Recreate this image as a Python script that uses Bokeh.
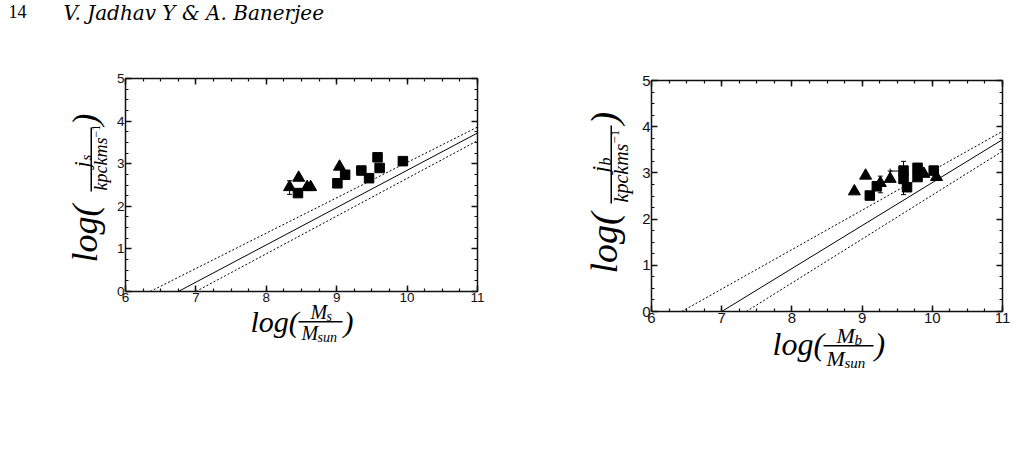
import math
from bokeh.plotting import figure
from bokeh.models import (Label, LinearAxis, SingleIntervalTicker, Range1d, Whisker,
                          ColumnDataSource, BoxAnnotation, TeeHead)
from bokeh.layouts import row
from bokeh.embed import file_html
from bokeh.resources import INLINE

# ---------------- data ----------------
# Left panel: stellar mass vs stellar specific angular momentum
s_tri_x = [8.33, 8.46, 8.58, 8.63, 9.04]
s_tri_y = [2.45, 2.67, 2.45, 2.45, 2.93]
s_sq_x = [8.45, 9.01, 9.12, 9.35, 9.46, 9.58, 9.61, 9.94]
s_sq_y = [2.31, 2.54, 2.74, 2.84, 2.66, 3.15, 2.90, 3.06]
s_err_x = [8.33]
s_err_lo = [2.28]
s_err_hi = [2.60]
s_fit_x = [6.75, 11.0]
s_fit_y = [0.0, 3.72]
s_up_x = [6.35, 11.0]
s_up_y = [0.0, 3.86]
s_lo_x = [7.0, 11.0]
s_lo_y = [0.0, 3.54]

# Right panel: baryonic mass vs baryonic specific angular momentum
b_tri_x = [8.89, 9.05, 9.26, 9.40, 9.88, 10.06]
b_tri_y = [2.60, 2.94, 2.78, 2.87, 2.98, 2.91]
b_sq_x = [9.11, 9.21, 9.59, 9.59, 9.64, 9.79, 9.79, 10.02]
b_sq_y = [2.51, 2.71, 3.05, 2.87, 2.69, 3.11, 2.91, 3.05]
b_err_x = [9.26, 9.59, 9.40]
b_err_lo = [2.57, 2.53, 2.87]
b_err_hi = [2.93, 3.25, 3.04]
b_xerr_y = [3.04]
b_xerr_lo = [9.40]
b_xerr_hi = [9.59]
b_fit_x = [7.0, 11.0]
b_fit_y = [0.0, 3.72]
b_up_x = [6.43, 11.0]
b_up_y = [0.0, 3.90]
b_lo_x = [7.35, 11.0]
b_lo_y = [0.0, 3.47]

x_ticks = [6, 7, 8, 9, 10, 11]
y_ticks = [0, 1, 2, 3, 4, 5]

SERIF = "Liberation Serif"
SANS = "Liberation Sans"
H = 457


def make_panel(fig_w, box_left, box_right, box_top, box_bottom, tick_size):
    """Figure whose frame is the whole canvas; the axes box is placed with
    fixed-location axes bounded to the data limits."""
    x0, x1 = x_ticks[0], x_ticks[-1]
    y0, y1 = y_ticks[0], y_ticks[-1]
    kx = (box_right - box_left) / (x1 - x0)
    ky = (box_bottom - box_top) / (y1 - y0)
    xs = x0 - box_left / kx
    ys = y0 - (H - box_bottom) / ky
    p = figure(width=fig_w, height=H, min_border=0,
               x_range=Range1d(xs, xs + fig_w / kx),
               y_range=Range1d(ys, ys + H / ky),
               output_backend="svg", toolbar_location=None,
               x_axis_type=None, y_axis_type=None)
    p.min_border_left = p.min_border_right = p.min_border_top = p.min_border_bottom = 0
    p.outline_line_color = None
    p.background_fill_color = "white"
    p.border_fill_color = "white"
    p.xgrid.visible = False
    p.ygrid.visible = False
    spec = {"below": y0, "above": y1, "left": x0, "right": x1}
    for side, loc in spec.items():
        ax = LinearAxis(ticker=SingleIntervalTicker(interval=1, num_minor_ticks=4))
        ax.fixed_location = loc
        ax.bounds = (x0, x1) if side in ("below", "above") else (y0, y1)
        ax.axis_line_color = "#111111"
        ax.axis_line_width = 1.5
        ax.major_tick_line_color = "#111111"
        ax.minor_tick_line_color = "#111111"
        ax.major_tick_line_width = 1.5
        ax.minor_tick_line_width = 1.2
        ax.major_tick_in = 6
        ax.major_tick_out = 0
        ax.minor_tick_in = 3
        ax.minor_tick_out = 0
        ax.major_label_standoff = 1
        ax.major_label_text_font = SANS
        ax.major_label_text_font_size = tick_size
        ax.major_label_text_color = "#111111"
        if side in ("above", "right"):
            ax.major_label_text_color = None
            ax.major_label_standoff = 0
        p.add_layout(ax, side)
    return p


SHIFT = 0.28  # empirical offset of the rendered baseline, in em


def lab(p, X, Y, text, size, angle=0.0, italic=True, align="left", font=SERIF):
    # X, Y: wanted baseline anchor in canvas pixels of this figure (y down)
    if angle:
        X = X - SHIFT * size
    else:
        Y = Y - SHIFT * size
    p.add_layout(Label(x=X, y=H - Y, x_units="screen", y_units="screen",
                       text=text, angle=angle, text_font=font,
                       text_font_style="italic" if italic else "normal",
                       text_font_size=f"{size}px", text_align=align,
                       text_baseline="alphabetic", text_color="black"))


def bar(p, X0, X1, Y0, Y1):
    p.add_layout(BoxAnnotation(left=X0, right=X1, top=H - Y0, bottom=H - Y1,
                               left_units="screen", right_units="screen",
                               top_units="screen", bottom_units="screen",
                               fill_color="black", fill_alpha=1.0, line_color=None))


def draw_data(p, tri_x, tri_y, sq_x, sq_y, ex, elo, ehi, fx, fy, ux, uy, lx, ly):
    p.line(fx, fy, line_color="black", line_width=1)
    p.line(ux, uy, line_color="black", line_width=1, line_dash="2 2")
    p.line(lx, ly, line_color="black", line_width=1, line_dash="2 2")
    src = ColumnDataSource(dict(x=ex, lo=elo, hi=ehi))
    p.add_layout(Whisker(source=src, base="x", lower="lo", upper="hi", dimension="height",
                         line_color="black", line_width=1,
                         upper_head=TeeHead(size=5, line_color="black"),
                         lower_head=TeeHead(size=5, line_color="black")))
    p.scatter(sq_x, sq_y, marker="square", size=9.5, fill_color="black", line_color="black")
    p.scatter(tri_x, tri_y, marker="triangle", size=12, fill_color="black", line_color="black")


R = math.pi / 2

# ---------------- left panel ----------------
p1 = make_panel(560, 125, 477, 78, 291, "13.5px")
draw_data(p1, s_tri_x, s_tri_y, s_sq_x, s_sq_y, s_err_x, s_err_lo, s_err_hi,
          s_fit_x, s_fit_y, s_up_x, s_up_y, s_lo_x, s_lo_y)
# y label (rotated, reads upwards)
lab(p1, 95, 262, "log(", 36, angle=R)
lab(p1, 87, 167, "j", 22, angle=R)
lab(p1, 90, 160, "s", 15, angle=R)
bar(p1, 90, 91.5, 127, 191)
lab(p1, 106, 190, "kpckms", 18, angle=R)
lab(p1, 99, 137, "\u22121", 12, angle=R, italic=False)
lab(p1, 95, 125, ")", 36, angle=R)
# x label
lab(p1, 250, 329, "log(", 30)
lab(p1, 310, 317, "M", 20)
lab(p1, 326, 320, "s", 14)
bar(p1, 298, 342, 320.5, 322)
lab(p1, 301, 338, "M", 20)
lab(p1, 317, 341, "sun", 14)
lab(p1, 343, 329, ")", 30)
# running header
lab(p1, 8, 16, "14", 18, italic=False)
lab(p1, 63, 18, "V. Jadhav Y & A. Banerjee", 20, font="DejaVu Serif")

# ---------------- right panel ----------------
O = 560  # page offset of the right figure
p2 = make_panel(456, 651 - O, 1002 - O, 80, 311, "15px")
draw_data(p2, b_tri_x, b_tri_y, b_sq_x, b_sq_y, b_err_x, b_err_lo, b_err_hi,
          b_fit_x, b_fit_y, b_up_x, b_up_y, b_lo_x, b_lo_y)
xsrc = ColumnDataSource(dict(y=b_xerr_y, lo=b_xerr_lo, hi=b_xerr_hi))
p2.add_layout(Whisker(source=xsrc, base="y", lower="lo", upper="hi", dimension="width",
                      line_color="black", line_width=1,
                      upper_head=TeeHead(size=5, line_color="black"),
                      lower_head=TeeHead(size=5, line_color="black")))
lab(p2, 614 - O, 273, "log(", 38, angle=R)
lab(p2, 606 - O, 172, "j", 24, angle=R)
lab(p2, 609 - O, 165, "b", 16, angle=R)
bar(p2, 610 - O, 611.5 - O, 125, 203)
lab(p2, 626 - O, 202, "kpckms", 20, angle=R)
lab(p2, 618 - O, 143, "\u22121", 13, angle=R, italic=False)
lab(p2, 614 - O, 124, ")", 38, angle=R)
lab(p2, 772 - O, 352, "log(", 32)
lab(p2, 836 - O, 341, "M", 22)
lab(p2, 854 - O, 344, "b", 15)
bar(p2, 823 - O, 873 - O, 344.5, 346)
lab(p2, 826 - O, 364, "M", 22)
lab(p2, 844 - O, 367, "sun", 15)
lab(p2, 874 - O, 352, ")", 32)

layout = row(p1, p2)
open("out.html", "w").write(file_html(layout, INLINE))
